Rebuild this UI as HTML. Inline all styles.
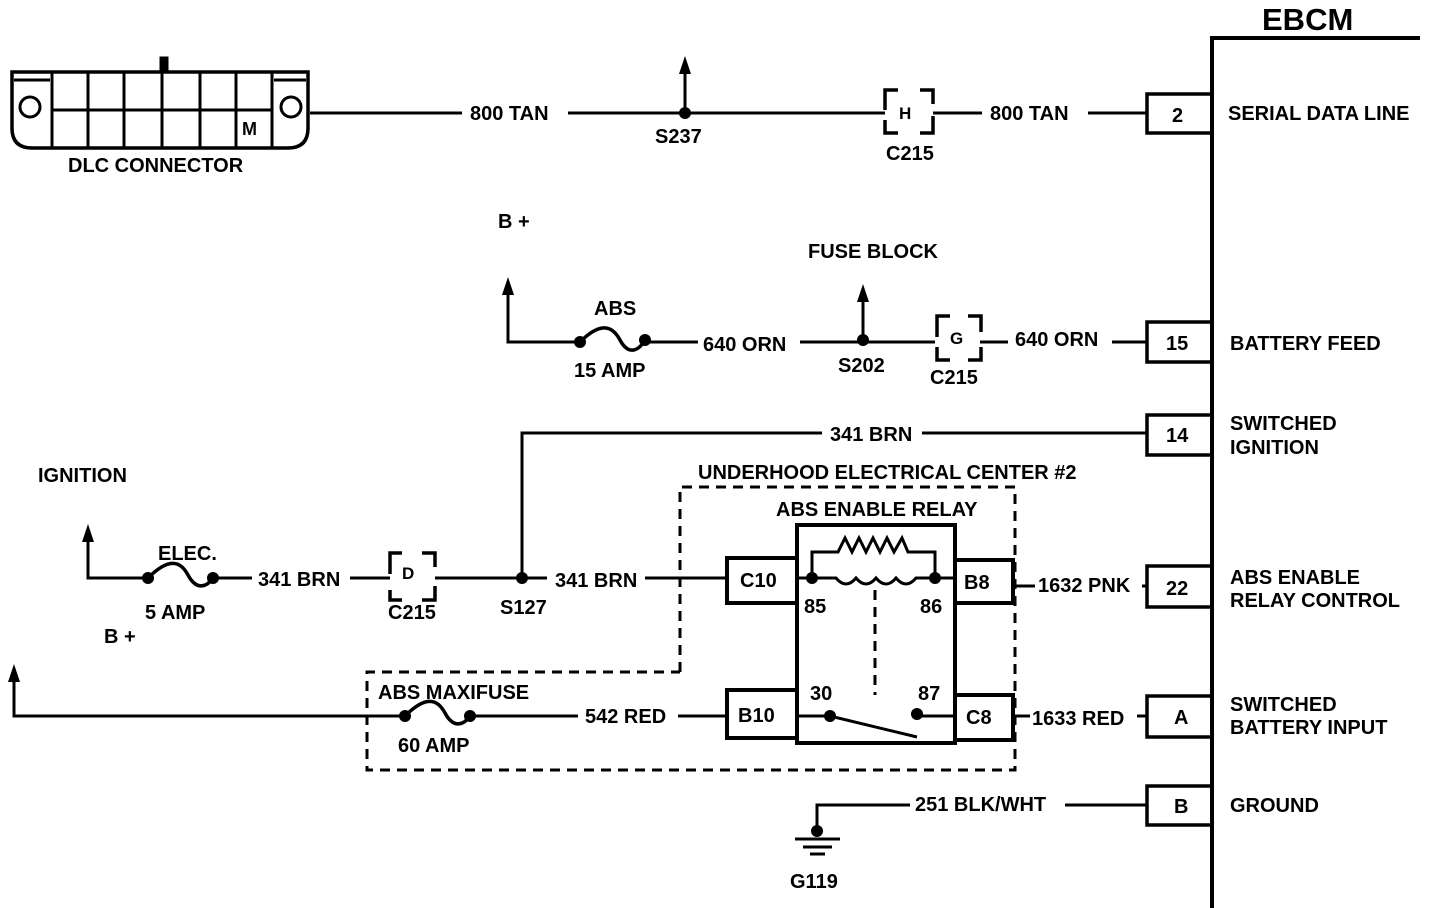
<!DOCTYPE html>
<html><head><style>
html,body{margin:0;padding:0;background:#fff;}
svg{display:block}
text{font-family:"Liberation Sans",sans-serif;font-weight:bold;font-size:20px;fill:#000}
</style></head><body>
<svg width="1440" height="908" viewBox="0 0 1440 908" xmlns="http://www.w3.org/2000/svg">
<g stroke="#000" stroke-width="3" fill="none">
<path d="M1212 908V38H1420" stroke-width="4"/>
<rect x="1147" y="94" width="65" height="39" stroke-width="3.5"/>
<rect x="1147" y="322" width="65" height="40" stroke-width="3.5"/>
<rect x="1147" y="415" width="65" height="40" stroke-width="3.5"/>
<rect x="1147" y="566" width="65" height="41" stroke-width="3.5"/>
<rect x="1147" y="696" width="65" height="41" stroke-width="3.5"/>
<rect x="1147" y="786" width="65" height="39" stroke-width="3.5"/>
<path d="M12 72H308V128Q308 148 288 148H32Q12 148 12 128Z" stroke-width="3.5"/>
<path d="M52 72V148M272 72V148M52 110H272M88 72V148M124 72V148M162 72V148M200 72V148M236 72V148M14 80H50M274 80H306" stroke-width="3"/>
<circle cx="30" cy="107" r="10"/><circle cx="291" cy="107" r="10"/>
<rect x="161" y="58" width="6" height="14" fill="#000"/>
<path d="M310 113H462M568 113H885M933 113H982M1088 113H1147"/>
<path d="M685 113V62"/>
<path d="M885 110V90H898M920 90H933V104M933 116V133H920M898 133H885V120" stroke-width="3.5"/>
<path d="M508 283V342H580M645 342H698M800 342H935M980 342H1008M1112 342H1147"/>
<path d="M863 342V290"/>
<path d="M580 342C600 322 612 325 620 340C628 355 638 352 645 340" stroke-width="3.5"/>
<path d="M937 337V316H950M968 316H981V332M981 347V360H968M950 360H937V347" stroke-width="3.5"/>
<path d="M522 578V433H822M922 433H1147"/>
<path d="M88 530V578H148M213 578H252M350 578H390M435 578H547M645 578H727"/>
<path d="M148 578C168 558 180 560 188 575C196 590 206 588 213 578" stroke-width="3.5"/>
<path d="M390 574V553H402M422 553H435V567M435 586V600H422M402 600H390V590" stroke-width="3.5"/>
<rect x="797" y="525" width="158" height="218" stroke-width="4"/>
<rect x="727" y="558" width="70" height="45" stroke-width="4"/>
<rect x="955" y="560" width="58" height="43" stroke-width="4"/>
<rect x="727" y="690" width="70" height="48" stroke-width="4"/>
<rect x="955" y="695" width="58" height="45" stroke-width="4"/>
<path d="M797 578H810M935 578H955"/>
<path d="M812 578V552H838L845 538L852 552L859 538L866 552L873 538L880 552L887 538L894 552L902 538L908 552H935V578"/>
<path d="M812 578H836Q846 590 856 578Q866 590 876 578Q886 590 896 578Q906 590 916 578H935"/>
<path d="M875 590V695" stroke-dasharray="10 7"/>
<path d="M797 716H830L917 737M917 716H955"/>
<path d="M1013 586H1035M1142 586H1147M1013 716H1030M1137 716H1147"/>
<path d="M680 672V487H1015V770H367V672H680" stroke-dasharray="10 7"/>
<path d="M14 670V716H402M470 716H578M678 716H727"/>
<path d="M405 716C425 696 437 698 445 713C453 728 463 726 470 716" stroke-width="3.5"/>
<path d="M1065 805H1147M817 831V805H910"/>
<path d="M795 839H840M803 847H832M810 854H825"/>
</g>
<g fill="#000">
<path d="M685 56l-6 18h12z M508 277l-6 18h12z M863 284l-6 18h12z M88 524l-6 18h12z M14 664l-6 18h12z"/>
<circle cx="685" cy="113" r="6"/><circle cx="863" cy="340" r="6"/>
<circle cx="580" cy="342" r="6"/><circle cx="645" cy="340" r="6"/>
<circle cx="148" cy="578" r="6"/><circle cx="213" cy="578" r="6"/>
<circle cx="522" cy="578" r="6"/>
<circle cx="405" cy="716" r="6"/><circle cx="470" cy="716" r="6"/>
<circle cx="812" cy="578" r="6"/><circle cx="935" cy="578" r="6"/>
<circle cx="830" cy="716" r="6"/><circle cx="917" cy="714" r="6"/>
<circle cx="817" cy="831" r="6"/>
</g>
<text x="1262" y="30" style="font-size:31px">EBCM</text>
<text x="242" y="135" style="font-size:18px">M</text>
<text x="68" y="172">DLC CONNECTOR</text>
<text x="470" y="120">800 TAN</text>
<text x="655" y="143">S237</text>
<text x="899" y="119" style="font-size:17px">H</text>
<text x="886" y="160">C215</text>
<text x="990" y="120">800 TAN</text>
<text x="1172" y="122">2</text>
<text x="1228" y="120">SERIAL DATA LINE</text>
<text x="498" y="228">B +</text>
<text x="808" y="258">FUSE BLOCK</text>
<text x="594" y="315">ABS</text>
<text x="574" y="377">15 AMP</text>
<text x="703" y="351">640 ORN</text>
<text x="838" y="372">S202</text>
<text x="950" y="344" style="font-size:17px">G</text>
<text x="930" y="384">C215</text>
<text x="1015" y="346">640 ORN</text>
<text x="1166" y="350">15</text>
<text x="1230" y="350">BATTERY FEED</text>
<text x="830" y="441">341 BRN</text>
<text x="1166" y="442">14</text>
<text x="1230" y="430">SWITCHED</text>
<text x="1230" y="454">IGNITION</text>
<text x="698" y="479">UNDERHOOD ELECTRICAL CENTER  #2</text>
<text x="38" y="482">IGNITION</text>
<text x="776" y="516">ABS ENABLE RELAY</text>
<text x="158" y="560">ELEC.</text>
<text x="258" y="586">341 BRN</text>
<text x="402" y="579" style="font-size:17px">D</text>
<text x="555" y="587">341 BRN</text>
<text x="740" y="587">C10</text>
<text x="964" y="589">B8</text>
<text x="804" y="613">85</text>
<text x="920" y="613">86</text>
<text x="145" y="619">5 AMP</text>
<text x="388" y="619">C215</text>
<text x="500" y="614">S127</text>
<text x="1038" y="592">1632 PNK</text>
<text x="1166" y="595">22</text>
<text x="1230" y="584">ABS ENABLE</text>
<text x="1230" y="607">RELAY CONTROL</text>
<text x="104" y="643">B +</text>
<text x="378" y="699">ABS MAXIFUSE</text>
<text x="810" y="700">30</text>
<text x="918" y="700">87</text>
<text x="738" y="722">B10</text>
<text x="966" y="724">C8</text>
<text x="585" y="723">542 RED</text>
<text x="1032" y="725">1633 RED</text>
<text x="1174" y="724">A</text>
<text x="1230" y="711">SWITCHED</text>
<text x="1230" y="734">BATTERY INPUT</text>
<text x="398" y="752">60 AMP</text>
<text x="915" y="811">251 BLK/WHT</text>
<text x="1174" y="813">B</text>
<text x="1230" y="812">GROUND</text>
<text x="790" y="888">G119</text>
</svg>
</body></html>
